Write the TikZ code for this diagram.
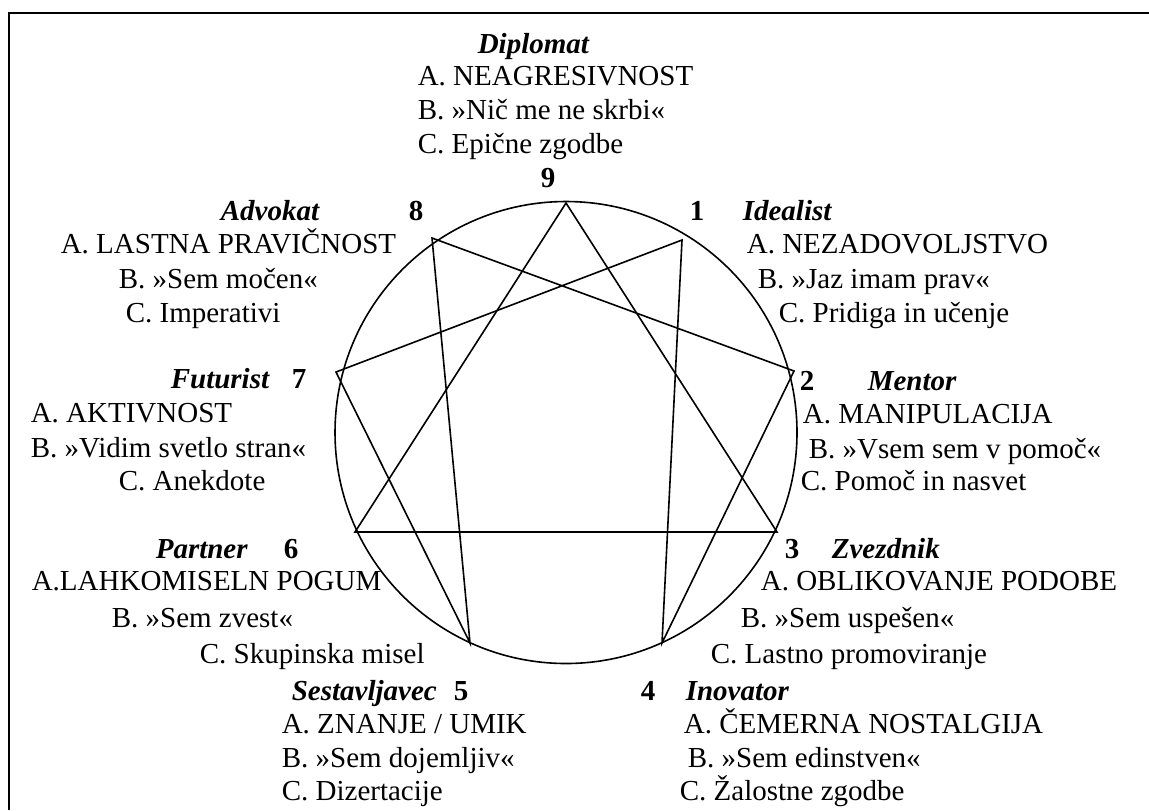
\documentclass[tikz,border=0pt]{standalone}
\usepackage{fontspec}
\setmainfont{Liberation Serif}
\begin{document}
\begin{tikzpicture}[x=0.5pt, y=-0.5pt, line width=0.8pt,
	every node/.style={inner sep=0pt, anchor=base west, font=\fontsize{14.5}{17}\selectfont},
	tname/.style={font=\fontsize{14.5}{17}\selectfont\bfseries\itshape},
	tnum/.style={anchor=base, font=\fontsize{14.5}{17}\selectfont\bfseries}]
	\useasboundingbox (0,0) rectangle (1149,810);
	\draw[line width=1.3pt] (9,810) -- (9,13) -- (1149,13);
	\coordinate (M) at (566,432.5);
	\coordinate (v9) at (566,203);
	\coordinate (v1) at (682,240);
	\coordinate (v2) at (794,371);
	\coordinate (v3) at (777,532);
	\coordinate (v4) at (662,643);
	\coordinate (v5) at (470,643);
	\coordinate (v6) at (355,532);
	\coordinate (v7) at (336,372);
	\coordinate (v8) at (432,238);
	\draw (M) circle (231);
	\draw (v9) -- (v3) -- (v6) -- cycle;
	\draw (v1) -- (v4) -- (v2) -- (v8) -- (v5) -- (v7) -- cycle;
	% 9
	\node[tname] (nm9) at (477,53) {Diplomat};
	\node (a9) at (417,85) {A. NEAGRESIVNOST};
	\node (b9) at (417,119) {B. »Nič me ne skrbi«};
	\node (c9) at (417,153) {C. Epične zgodbe};
	\node[tnum] (n9) at (548,187) {9};
	% 8
	\node[tname] (nm8) at (220,220) {Advokat};
	\node[tnum] (n8) at (416,220) {8};
	\node (a8) at (60,253) {A. LASTNA PRAVIČNOST};
	\node (b8) at (118,288) {B. »Sem močen«};
	\node (c8) at (125,322) {C. Imperativi};
	% 1
	\node[tnum] (n1) at (697,220) {1};
	\node[tname] (nm1) at (742,220) {Idealist};
	\node (a1) at (746,253) {A. NEZADOVOLJSTVO};
	\node (b1) at (757,288) {B. »Jaz imam prav«};
	\node (c1) at (778,322) {C. Pridiga in učenje};
	% 7
	\node[tname] (nm7) at (170,388) {Futurist};
	\node[tnum] (n7) at (299,388) {7};
	\node (a7) at (30,422) {A. AKTIVNOST};
	\node (b7) at (30,457) {B. »Vidim svetlo stran«};
	\node (c7) at (118,490) {C. Anekdote};
	% 2
	\node[tnum] (n2) at (807,390) {2};
	\node[tname] (nm2) at (867,390) {Mentor};
	\node (a2) at (802,423) {A. MANIPULACIJA};
	\node (b2) at (808,458) {B. »Vsem sem v pomoč«};
	\node (c2) at (800,490) {C. Pomoč in nasvet};
	% 6
	\node[tname] (nm6) at (155,558) {Partner};
	\node[tnum] (n6) at (291,558) {6};
	\node (a6) at (31,590) {A.LAHKOMISELN POGUM};
	\node (b6) at (111,627) {B. »Sem zvest«};
	\node (c6) at (199,663) {C. Skupinska misel};
	% 3
	\node[tnum] (n3) at (792,558) {3};
	\node[tname] (nm3) at (831,558) {Zvezdnik};
	\node (a3) at (760,590) {A. OBLIKOVANJE PODOBE};
	\node (b3) at (740,627) {B. »Sem uspešen«};
	\node (c3) at (710,663) {C. Lastno promoviranje};
	% 5
	\node[tname] (nm5) at (291,700) {Sestavljavec};
	\node[tnum] (n5) at (461,700) {5};
	\node (a5) at (281,733) {A. ZNANJE / UMIK};
	\node (b5) at (281,767) {B. »Sem dojemljiv«};
	\node (c5) at (281,800) {C. Dizertacije};
	% 4
	\node[tnum] (n4) at (648,700) {4};
	\node[tname] (nm4) at (685,700) {Inovator};
	\node (a4) at (683,733) {A. ČEMERNA NOSTALGIJA};
	\node (b4) at (687,767) {B. »Sem edinstven«};
	\node (c4) at (679,800) {C. Žalostne zgodbe};
\end{tikzpicture}
\end{document}
